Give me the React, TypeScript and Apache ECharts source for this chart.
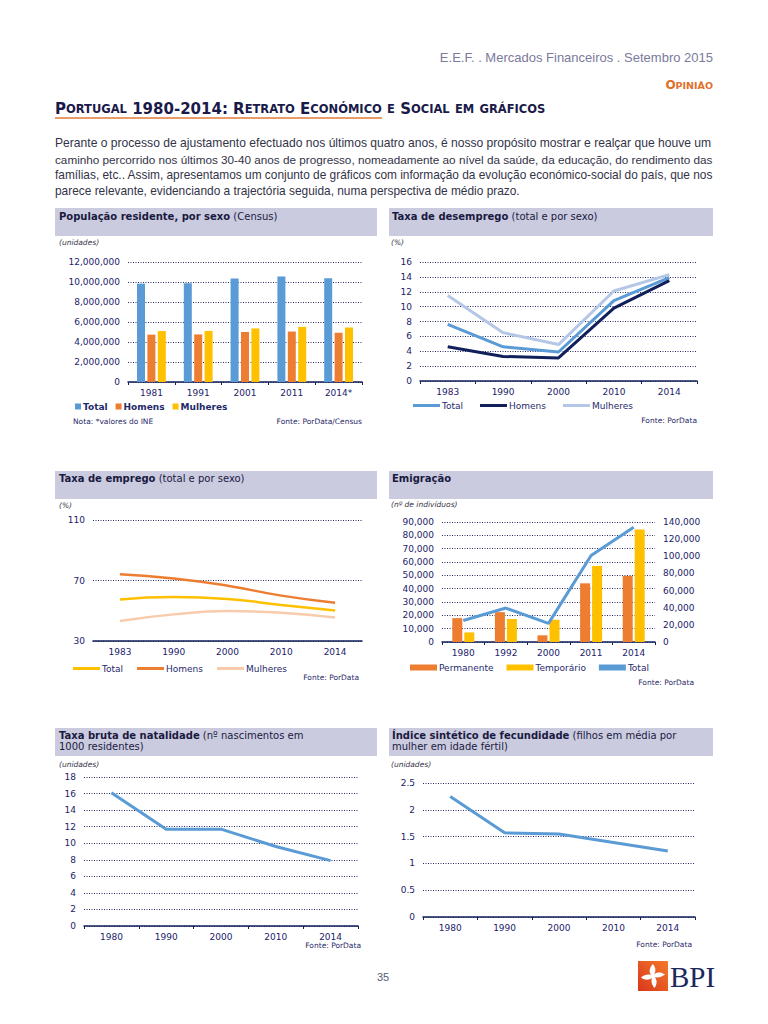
import React, { useEffect, useRef } from "react";
import * as echarts from "echarts";

// ---------- DATA ----------
const popYears = ["1981", "1991", "2001", "2011", "2014*"];
const popTotal = [9833014, 9867147, 10356117, 10562178, 10374822];
const popHomens = [4737715, 4756775, 5000141, 5046600, 4923666];
const popMulheres = [5095299, 5110372, 5355976, 5515578, 5451156];

const unempYears = ["1983", "1990", "2000", "2010", "2014"];
const unempTotal = [7.6, 4.6, 3.9, 10.8, 13.9];
const unempHomens = [4.6, 3.3, 3.1, 9.8, 13.5];
const unempMulheres = [11.5, 6.5, 4.9, 12.1, 14.3];

const empYears = ["1983", "1990", "2000", "2010", "2014"];
const empTotal = [57.5, 59.1, 57.8, 53.8, 50.1];
const empHomens = [74.1, 71.4, 66.6, 60.0, 55.3];
const empMulheres = [43.2, 47.6, 49.8, 48.7, 45.6];

const emigYears = ["1980", "1992", "2000", "2011", "2014"];
const emigPermanente = [17900, 22400, 5000, 44000, 49600];
const emigTemporario = [7200, 17200, 16700, 57000, 84300];
const emigTotal = [25100, 39600, 21700, 101000, 133900];

const natYears = ["1980", "1990", "2000", "2010", "2014"];
const natValues = [16.1, 11.7, 11.7, 9.6, 7.9];

const fecYears = ["1980", "1990", "2000", "2010", "2014"];
const fecValues = [2.25, 1.57, 1.55, 1.39, 1.23];

const paragraphLines = [
  "Perante o processo de ajustamento efectuado nos últimos quatro anos, é nosso propósito mostrar e realçar que houve um",
  "caminho percorrido nos últimos 30-40 anos de progresso, nomeadamente ao nível da saúde, da educação, do rendimento das",
  "famílias, etc.. Assim, apresentamos um conjunto de gráficos com informação da evolução económico-social do país, que nos",
  "parece relevante, evidenciando a trajectória seguida, numa perspectiva de médio prazo.",
];
const paragraphSizes = [12.1, 11.72, 11.88, 11.9];

// ---------- STYLE ----------
const BLUE = "#5b9bd5";
const ORANGE = "#ed7d31";
const YELLOW = "#ffc000";
const NAVY = "#11205a";
const LIGHTBLUE = "#b4c7e7";
const PEACH = "#f8cbad";
const AXIS = "#22226a";
const GRIDC = "#2a2a66";
const BOX = "#cbcbe0";
const FONT = "DejaVu Sans";

const fmt = (v: number) => Math.round(v).toLocaleString("en-US");

function smallCaps(s: string) {
  let out = "";
  let cur = "";
  let curType = "";
  for (const ch of s) {
    const isLower = ch !== ch.toUpperCase();
    const t = isLower ? "s" : "b";
    const c = isLower ? ch.toUpperCase() : ch;
    if (t !== curType && cur) {
      out += `{${curType}|${cur}}`;
      cur = "";
    }
    curType = t;
    cur += c;
  }
  if (cur) out += `{${curType}|${cur}}`;
  return out;
}

const FLOWER =
  "M15 3 C18 7 18 10.5 16.2 13 C19 11 23 10.5 27 13.5 C23 16.5 19.5 17 17 16 C19 19 19.5 23 16.5 27 C13.5 23.5 13 19.5 14 17 C11 19 7 19.5 3 16.5 C6.5 13.5 10.5 13 13 14 C11 11 11 7 15 3 Z";

function xCat(gridIndex: number, data: string[], ticks = true) {
  return {
    type: "category",
    gridIndex,
    data,
    boundaryGap: true,
    axisLine: { show: true, lineStyle: { color: NAVY, width: 1.5 } },
    axisTick: { show: ticks, length: 3, lineStyle: { color: NAVY, width: 1 } },
    axisLabel: { color: AXIS, fontFamily: FONT, fontSize: 9, margin: 6 },
    splitLine: { show: false },
  };
}

function yVal(gridIndex: number, min: number, max: number, interval: number, formatter?: any, extra: any = {}) {
  return {
    type: "value",
    gridIndex,
    min,
    max,
    interval,
    axisLine: { show: false },
    axisTick: { show: false },
    axisLabel: { color: AXIS, fontFamily: FONT, fontSize: 9, margin: 8, formatter },
    splitLine: { show: true, lineStyle: { color: GRIDC, width: 1, type: [1, 1.5] } },
    ...extra,
  };
}

function headerText(x: number, y: number, bold: string, normal: string) {
  return {
    type: "text",
    x,
    y,
    style: {
      text: `{b|${bold}}{n|${normal}}`,
      verticalAlign: "middle",
      align: "left",
      rich: {
        b: { fontFamily: FONT, fontSize: 10, fontWeight: "bold", fill: "#1a1a40" },
        n: { fontFamily: FONT, fontSize: 10, fill: "#1a1a40" },
      },
    },
  };
}

function plain(x: number, y: number, text: string, opts: any = {}) {
  return {
    type: "text",
    x,
    y,
    style: {
      text,
      fontFamily: opts.family || FONT,
      fontSize: opts.size || 8,
      fontStyle: opts.italic ? "italic" : "normal",
      fontWeight: opts.bold ? "bold" : "normal",
      fill: opts.color || "#2a2a6a",
      align: opts.align || "left",
      verticalAlign: "middle",
    },
  };
}

function box(x: number, y: number, w: number, h: number) {
  return { type: "rect", shape: { x, y, width: w, height: h }, style: { fill: BOX } };
}

function legendCfg(left: number, top: number, items: any[], opts: any = {}) {
  return {
    left,
    top,
    padding: 0,
    orient: "horizontal",
    icon: "rect",
    itemWidth: opts.w || 27,
    itemHeight: opts.h || 3,
    itemGap: opts.gap || 12,
    selectedMode: false,
    itemStyle: { borderWidth: 0 },
    textStyle: {
      color: "#1f2a6b",
      fontFamily: FONT,
      fontSize: 9,
      fontWeight: opts.bold ? "bold" : "normal",
      padding: [0, 0, 0, -3],
    },
    data: items.map((it) => ({ name: it[0], itemStyle: { color: it[1], borderWidth: 0 } })),
  };
}

export default function App() {
  const ref = useRef<HTMLDivElement>(null);
  useEffect(() => {
    if (!ref.current) return;
    echarts.graphic.registerShape("bpiFlower", echarts.graphic.extendPath(FLOWER, {}) as any);
    const chart = echarts.init(ref.current, undefined, { renderer: "svg", width: 768, height: 1024 });

    const lineS = (name: string, x: number, y: number, data: number[], color: string, width = 3, smooth = false) => ({
      type: "line",
      name,
      xAxisIndex: x,
      yAxisIndex: y,
      data,
      smooth,
      symbol: "none",
      lineStyle: { color, width },
      itemStyle: { color },
    });
    const barS = (name: string, x: number, y: number, data: number[], color: string, w: number, gap: string) => ({
      type: "bar",
      name,
      xAxisIndex: x,
      yAxisIndex: y,
      data,
      barWidth: w,
      barGap: gap,
      itemStyle: { color },
    });

    const option: any = {
      animation: false,
      backgroundColor: "#ffffff",
      grid: [
        { left: 128, top: 262, width: 234, height: 120 },
        { left: 420, top: 262, width: 277, height: 119 },
        { left: 93, top: 520, width: 269, height: 121 },
        { left: 442, top: 522, width: 213, height: 120 },
        { left: 84, top: 777, width: 274, height: 149 },
        { left: 423, top: 783, width: 272, height: 134 },
      ],
      xAxis: [
        xCat(0, popYears),
        xCat(1, unempYears),
        xCat(2, empYears, false),
        xCat(3, emigYears),
        xCat(4, natYears),
        xCat(5, fecYears),
      ],
      yAxis: [
        yVal(0, 0, 12000000, 2000000, fmt),
        yVal(1, 0, 16, 2),
        yVal(2, 30, 110, 40),
        yVal(3, 0, 90000, 10000, fmt),
        yVal(3, 0, 140000, 20000, fmt, { position: "right", splitLine: { show: false } }),
        yVal(4, 0, 18, 2),
        yVal(5, 0, 2.5, 0.5),
      ],
      legend: [
        legendCfg(75, 402, [["Total", BLUE], ["Homens", ORANGE], ["Mulheres", YELLOW]], { w: 6, h: 6, gap: 8, bold: true }),
        legendCfg(413, 401, [["Total", BLUE], ["Homens", NAVY], ["Mulheres", LIGHTBLUE]], { gap: 17 }),
        legendCfg(73, 664, [["Total", YELLOW], ["Homens", ORANGE], ["Mulheres", PEACH]], { gap: 14 }),
        legendCfg(410, 663, [["Permanente", ORANGE], ["Temporário", YELLOW], ["Total", BLUE]], { h: 6, gap: 13 }),
      ],
      series: [
        barS("Total", 0, 0, popTotal, BLUE, 8, "30%"),
        barS("Homens", 0, 0, popHomens, ORANGE, 8, "30%"),
        barS("Mulheres", 0, 0, popMulheres, YELLOW, 8, "30%"),

        lineS("Mulheres", 1, 1, unempMulheres, LIGHTBLUE, 3),
        lineS("Total", 1, 1, unempTotal, BLUE, 3),
        lineS("Homens", 1, 1, unempHomens, NAVY, 3),

        lineS("Mulheres", 2, 2, empMulheres, PEACH, 2.5, true),
        lineS("Total", 2, 2, empTotal, YELLOW, 2.5, true),
        lineS("Homens", 2, 2, empHomens, ORANGE, 2.5, true),

        barS("Permanente", 3, 3, emigPermanente, ORANGE, 10, "20%"),
        barS("Temporário", 3, 3, emigTemporario, YELLOW, 10, "20%"),
        lineS("Total", 3, 4, emigTotal, BLUE, 3),

        lineS("Taxa bruta de natalidade", 4, 5, natValues, BLUE, 3),
        lineS("Índice sintético de fecundidade", 5, 6, fecValues, BLUE, 3),
      ],
      graphic: [
        // page header
        plain(713, 57, "E.E.F. . Mercados Financeiros . Setembro 2015", { family: "Liberation Sans", size: 13, color: "#7a7a9c", align: "right" }),
        {
          type: "text",
          x: 713,
          y: 85,
          style: {
            text: smallCaps("Opinião"),
            align: "right",
            verticalAlign: "middle",
            rich: {
              b: { fontFamily: FONT, fontSize: 12, fontWeight: "bold", fill: "#e0702a" },
              s: { fontFamily: FONT, fontSize: 9.5, fontWeight: "bold", fill: "#e0702a" },
            },
          },
        },
        {
          type: "text",
          x: 55,
          y: 109,
          style: {
            text: smallCaps("Portugal 1980-2014: Retrato Económico e Social em gráficos"),
            align: "left",
            verticalAlign: "middle",
            rich: {
              b: { fontFamily: FONT, fontSize: 15, fontWeight: "bold", fill: "#1a1a4a" },
              s: { fontFamily: FONT, fontSize: 11.5, fontWeight: "bold", fill: "#1a1a4a" },
            },
          },
        },
        { type: "line", shape: { x1: 55, y1: 118, x2: 382, y2: 118 }, style: { stroke: "#e07b39", lineWidth: 1.5 } },
        ...paragraphLines.map((l, i) =>
          plain(55, 143 + i * 16, l, { family: "Liberation Sans", size: paragraphSizes[i], color: "#333348" })
        ),

        // panel boxes
        box(55, 208, 322, 28),
        box(389, 208, 324, 28),
        box(55, 471, 322, 28),
        box(389, 471, 324, 28),
        box(55, 728, 322, 28),
        box(389, 728, 324, 28),

        headerText(59, 216, "População residente, por sexo", " (Census)"),
        headerText(392, 216, "Taxa de desemprego", " (total e por sexo)"),
        headerText(59, 478, "Taxa de emprego", " (total e por sexo)"),
        headerText(392, 478, "Emigração", ""),
        headerText(59, 735, "Taxa bruta de natalidade", " (nº nascimentos em"),
        plain(59, 746, "1000 residentes)", { size: 10, color: "#1a1a40" }),
        headerText(392, 735, "Índice sintético de fecundidade", " (filhos em média por"),
        plain(392, 746, "mulher em idade fértil)", { size: 10, color: "#1a1a40" }),

        plain(59, 242, "(unidades)", { size: 7.5, italic: true, color: "#333344" }),
        plain(391, 242, "(%)", { size: 7.5, italic: true, color: "#333344" }),
        plain(59, 505, "(%)", { size: 7.5, italic: true, color: "#333344" }),
        plain(391, 504, "(nº de indivíduos)", { size: 7.5, italic: true, color: "#333344" }),
        plain(59, 764, "(unidades)", { size: 7.5, italic: true, color: "#333344" }),
        plain(391, 764, "(unidades)", { size: 7.5, italic: true, color: "#333344" }),

        plain(73, 421, "Nota: *valores do INE", { size: 7.5 }),
        plain(362, 421, "Fonte: PorData/Census", { size: 7.5, align: "right" }),
        plain(697, 420, "Fonte: PorData", { size: 7.5, align: "right" }),
        plain(359, 677, "Fonte: PorData", { size: 7.5, align: "right" }),
        plain(694, 682, "Fonte: PorData", { size: 7.5, align: "right" }),
        plain(361, 945, "Fonte: PorData", { size: 7.5, align: "right" }),
        plain(692, 944, "Fonte: PorData", { size: 7.5, align: "right" }),

        // footer
        plain(383, 977, "35", { family: "Liberation Sans", size: 11, color: "#555a7a", align: "center" }),
        {
          type: "rect",
          shape: { x: 638, y: 961, width: 30, height: 30 },
          style: {
            fill: new echarts.graphic.LinearGradient(1, 0, 0, 1, [
              { offset: 0, color: "#f47a2c" },
              { offset: 1, color: "#d8361a" },
            ]),
          },
        },
        { type: "bpiFlower", x: 638, y: 961, scaleX: 1, scaleY: 1, style: { fill: "#ffffff" } },
        plain(670, 977, "BPI", { family: "Liberation Serif", size: 29, color: "#1b2a5c" }),
      ],
    };
    chart.setOption(option);
    return () => chart.dispose();
  }, []);
  return <div ref={ref} style={{ position: "absolute", left: 0, top: 0, width: 768, height: 1024, background: "#fff" }} />;
}
